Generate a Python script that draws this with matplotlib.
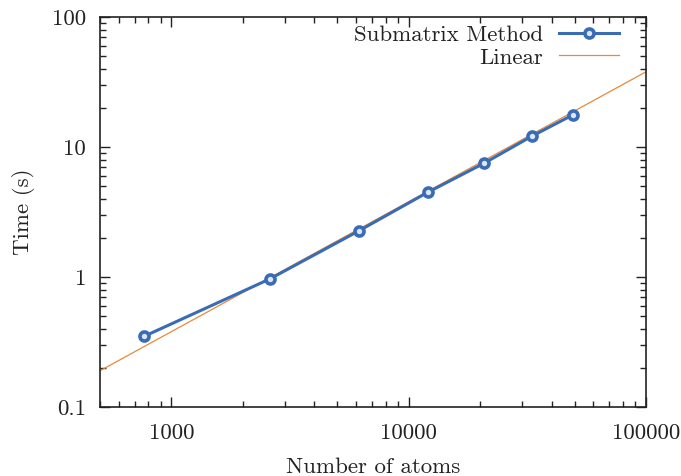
import numpy as np
import matplotlib
matplotlib.use("Agg")
from matplotlib import pyplot as plt
from matplotlib.ticker import LogLocator, FixedLocator, FixedFormatter, NullFormatter

# timings for the submatrix method
atoms = [768, 2592, 6144, 12000, 20736, 32928, 49152]
times = [0.35, 0.965, 2.26, 4.48, 7.5, 12.1, 17.7]

# linear reference line (end points)
lin_x = [500, 100000]
lin_y = [0.19, 38.0]

plt.rcParams['font.family'] = ['cmr10', 'DejaVu Serif']
plt.rcParams['axes.formatter.use_mathtext'] = True
plt.rcParams['font.size'] = 16.5

fig = plt.figure(figsize=(6.81, 4.76), dpi=100)
ax = fig.add_axes([0.1468, 0.145, 0.802, 0.819])

ax.plot(atoms, times, color='#3a6cb5', lw=2.2, marker='o', ms=6.5, mew=2.6,
        mfc='#dfe6f2', mec='#3a6cb5', label='Submatrix Method', zorder=3)
ax.plot(lin_x, lin_y, color='#e8893a', lw=0.9, label='Linear', zorder=2)

ax.set_xscale('log')
ax.set_yscale('log')
ax.set_xlim(500, 100000)
ax.set_ylim(0.1, 100)

ax.xaxis.set_major_locator(FixedLocator([1000, 10000, 100000]))
ax.xaxis.set_major_formatter(FixedFormatter(['1000', '10000', '100000']))
ax.xaxis.set_minor_locator(LogLocator(base=10, subs=np.arange(2, 10)))
ax.xaxis.set_minor_formatter(NullFormatter())
ax.yaxis.set_major_locator(FixedLocator([0.1, 1, 10, 100]))
ax.yaxis.set_major_formatter(FixedFormatter(['0.1', '1', '10', '100']))
ax.yaxis.set_minor_locator(LogLocator(base=10, subs=np.arange(2, 10)))
ax.yaxis.set_minor_formatter(NullFormatter())

ax.tick_params(which='both', direction='in', top=True, right=True, width=1, colors='#222222')
ax.tick_params(which='major', length=7, pad=10)
ax.tick_params(which='minor', length=4)
ax.tick_params(axis='x', which='major', pad=12)
for s in ax.spines.values():
    s.set_linewidth(1.2)
    s.set_color('#222222')

ax.set_xlabel('Number of atoms', labelpad=10, color='#222222')
ax.set_ylabel('Time (s)', labelpad=12, color='#222222')

leg = ax.legend(loc='upper right', frameon=False, markerfirst=False,
                handlelength=2.6, borderaxespad=0.0, labelspacing=0.1,
                handletextpad=0.7, bbox_to_anchor=(0.967, 1.003))
for t in leg.get_texts():
    t.set_ha('right')
    t.set_color('#222222')

fig.savefig('out.png', dpi=100)
